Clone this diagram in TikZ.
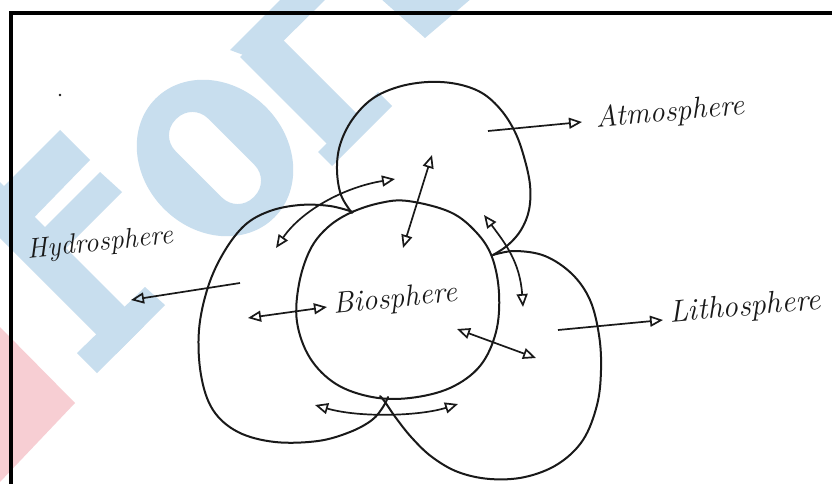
\documentclass[tikz,border=0pt]{standalone}
\usetikzlibrary{arrows.meta}
\definecolor{wmblue}{RGB}{200,222,238}
\definecolor{wmpink}{RGB}{247,206,211}
\definecolor{ink}{RGB}{25,25,25}
\tikzset{
  blob/.style={draw=ink, line width=2pt, line join=round, line cap=round},
  link/.style={draw=ink, line width=1.7pt, -{Triangle[open, length=13pt, width=11pt]}},
  duallink/.style={draw=ink, line width=1.7pt, {Triangle[open, length=13pt, width=11pt]}-{Triangle[open, length=13pt, width=11pt]}},
  handtext/.style={text=ink, font=\itshape, inner sep=0pt},
  wm/.style={fill=wmblue, draw=none},
}
\begin{document}
\begin{tikzpicture}[x=1pt, y=-1pt]
\useasboundingbox (0,0) rectangle (832,484);
\fill[white] (0,0) rectangle (832,484);
% watermark (faint)
\fill[wmpink] (0,327) -- (75,403) -- (0,482) -- cycle;
\fill[wm] (-6,176) -- (144,326) -- (116,354) -- (-34,204) -- cycle;
\fill[wm] (97,373) -- (165,305) -- (145,287) -- (77,353) -- cycle;
\fill[wm] (-10,200) -- (60,130) -- (90,160) -- (20,232) -- cycle;
\fill[wm] (30,242) -- (100,172) -- (122,192) -- (52,262) -- cycle;
\begin{scope}[rotate around={-45:(215,158)}]
  \fill[wm, even odd rule] (215,158) ellipse[x radius=84, y radius=72]
     [rounded corners=22] (160,135) rectangle (270,181);
\end{scope}
\fill[wm] (240,57) -- (330,147) -- (360,117) -- (270,27) -- cycle;
\fill[wm] (318,152) -- (378,92) -- (392,106) -- (332,166) -- cycle;
\fill[wm] (230,50) -- (285,-5) -- (330,-5) -- (262,62) -- cycle;
\fill[wm] (380,-2) -- (472,-2) -- (425,38) -- cycle;
% frame
\draw[black, line width=4pt] (11,486) -- (11,13.5) -- (834,13.5);
\fill[ink] (60,95) circle[radius=1.3];
% spheres
\draw[blob] plot[smooth, tension=0.6] coordinates {(352,213) (341,195) (337,170) (340,145) (352,120) (372,99) (398,87) (428,82) (457,84) (482,93) (501,110) (515,132) (524,157) (530,185) (529,210) (521,230) (508,245) (493,255)};
\draw[blob] plot[smooth cycle, tension=0.6] coordinates {(350,213) (380,203) (408,201) (450,212) (476,232) (492,257) (499,293) (496,332) (480,366) (450,388) (410,398) (372,397) (336,384) (310,358) (297,322) (299,284) (310,250) (327,228)};
\draw[blob] plot[smooth, tension=0.6] coordinates {(353,212) (330,206) (300,205) (270,211) (245,225) (224,252) (208,287) (199,330) (201,375) (213,410) (238,432) (275,442) (318,441) (350,432) (372,420) (383,407) (388,397)};
\draw[blob] plot[smooth, tension=0.6] coordinates {(493,255) (515,251) (545,256) (572,274) (590,300) (599,335) (601,370) (597,405) (583,440) (558,464) (525,477) (490,479) (458,472) (432,457) (412,438) (396,418) (385,402) (380,396)};
% labels
\node[handtext, font=\itshape\fontsize{30}{32}\selectfont, rotate=5] (atm) at (670,113) {Atmosphere};
\node[handtext, font=\itshape\fontsize{28}{30}\selectfont, rotate=6] (hyd) at (100,244) {Hydrosphere};
\node[handtext, font=\itshape\fontsize{30}{32}\selectfont, rotate=6] (bio) at (395,300) {Biosphere};
\node[handtext, font=\itshape\fontsize{31}{33}\selectfont, rotate=5] (lit) at (745,308) {Lithosphere};
% arrow end points
\coordinate (a1s) at (488,131); \coordinate (a1e) at (582,122);
\coordinate (a2s) at (240,283); \coordinate (a2e) at (131,300);
\coordinate (a3s) at (558,330); \coordinate (a3e) at (663,320);
\coordinate (b1) at (248,318); \coordinate (b2) at (327,307);
\coordinate (c1) at (276,248); \coordinate (c2) at (395,179);
\coordinate (d1) at (403,248); \coordinate (d2) at (432,155);
\coordinate (e1) at (484,215); \coordinate (e2) at (523,307);
\coordinate (f1) at (457,329); \coordinate (f2) at (536,358);
\coordinate (g1) at (315,405); \coordinate (g2) at (458,404);
\draw[link] (a1s) -- (a1e);
\draw[link] (a2s) -- (a2e);
\draw[link] (a3s) -- (a3e);
\draw[duallink] (b1) -- (b2);
\draw[duallink] (c1) .. controls (302,210) and (345,187) .. (c2);
\draw[duallink] (d1) -- (d2);
\draw[duallink] (e1) .. controls (505,243) and (520,262) .. (e2);
\draw[duallink] (f1) -- (f2);
\draw[duallink] (g1) .. controls (360,418) and (420,416) .. (g2);
\end{tikzpicture}
\end{document}
